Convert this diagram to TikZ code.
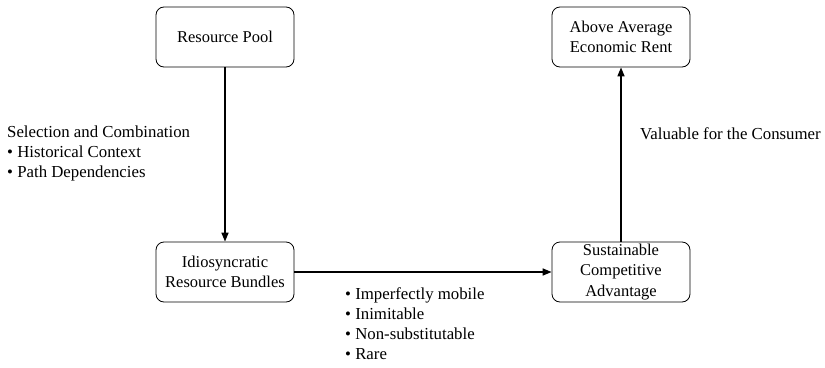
\documentclass[tikz,border=0pt]{standalone}
\usepackage{fontspec}
\setmainfont{Liberation Serif}
\usetikzlibrary{arrows.meta}
\begin{document}
\begin{tikzpicture}[x=1pt,y=-1pt,
  box/.style={draw, line width=0.8pt, rounded corners=8pt, minimum width=138pt, minimum height=60pt, align=center, font=\fontsize{16.5}{20.5}\selectfont, inner sep=1pt},
  flow/.style={line width=1.6pt, -{Triangle[length=9pt,width=7pt]}},
  note/.style={align=left, font=\fontsize{16.8}{20}\selectfont, inner sep=0pt, anchor=north west}]
\useasboundingbox (0,0) rectangle (825,367);
\node[box] (pool) at (225,37) {Resource Pool};
\node[box] (rent) at (621,37) {Above Average\\Economic Rent};
\node[box] (bundles) at (225,272) {Idiosyncratic\\Resource Bundles};
\node[box] (sca) at (621,272) {Sustainable\\Competitive\\Advantage};
\draw[flow] (pool) -- (bundles);
\draw[flow] (bundles) -- (sca);
\draw[flow] (sca) -- (rent);
\node[note] (sel) at (7,126) {Selection and Combination\\\textbullet{} Historical Context\\\textbullet{} Path Dependencies};
\node[note] (attr) at (345,287) {\textbullet{} Imperfectly mobile\\\textbullet{} Inimitable\\\textbullet{} Non-substitutable\\\textbullet{} Rare};
\node[note] (val) at (640,127) {Valuable for the Consumer};
\end{tikzpicture}
\end{document}
